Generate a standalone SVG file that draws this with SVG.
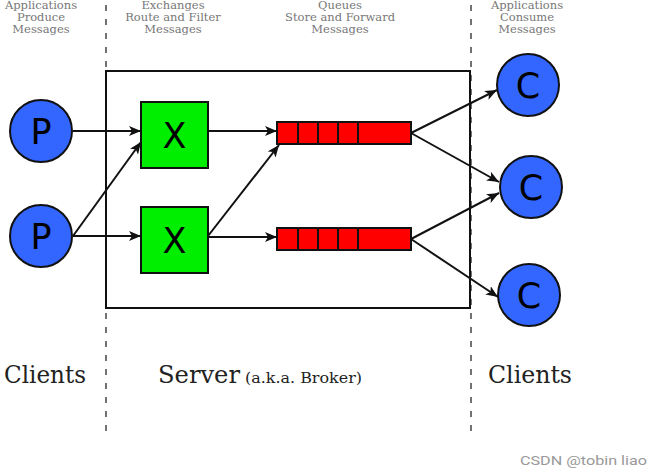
<svg xmlns="http://www.w3.org/2000/svg" width="661" height="476" viewBox="0 0 661 476">
<style>
.hdr{font-family:"DejaVu Serif","Liberation Serif",serif;font-size:11.5px;fill:#777;text-anchor:middle}
.big{font-family:"DejaVu Serif","Liberation Serif",serif;font-size:24px;fill:#222}
.sm{font-family:"DejaVu Serif","Liberation Serif",serif;font-size:14px;fill:#222}
.node{stroke:#111;stroke-width:2}
.circ{fill:#3366ff}
.ex{fill:#00ee00}
.q{fill:#ff0000}
.lbl{font-family:"DejaVu Sans","Liberation Sans",sans-serif;font-size:35px;fill:#000;text-anchor:middle}
.dash{stroke:#444;stroke-width:1.5;stroke-dasharray:6 8;fill:none}
.conn{stroke:#111;stroke-width:2;fill:none;marker-end:url(#ah)}
.wm{font-family:"Liberation Sans Narrow","Roboto","Liberation Sans",sans-serif;font-size:13px;fill:#999}
</style>
<defs>
<marker id="ah" viewBox="0 0 12 10" refX="12" refY="5" markerWidth="12" markerHeight="10" markerUnits="userSpaceOnUse" orient="auto">
<path d="M0,0 L12,5 L0,10 L3,5 Z" fill="#111"/>
</marker>
</defs>
<rect width="661" height="476" fill="#fff"/>
<g id="headers">
<text class="hdr" x="41" y="9">Applications</text>
<text class="hdr" x="41" y="21">Produce</text>
<text class="hdr" x="41" y="33">Messages</text>
<text class="hdr" x="173" y="9">Exchanges</text>
<text class="hdr" x="173" y="21">Route and Filter</text>
<text class="hdr" x="173" y="33">Messages</text>
<text class="hdr" x="340" y="9">Queues</text>
<text class="hdr" x="340" y="21">Store and Forward</text>
<text class="hdr" x="340" y="33">Messages</text>
<text class="hdr" x="527" y="9">Applications</text>
<text class="hdr" x="527" y="21">Consume</text>
<text class="hdr" x="527" y="33">Messages</text>
</g>
<g id="dividers">
<line class="dash" x1="106" y1="5" x2="106" y2="432"/>
<line class="dash" x1="471" y1="5" x2="471" y2="432"/>
</g>
<g id="server">
<rect x="106" y="71" width="364" height="237" fill="none" stroke="#111" stroke-width="2"/>
</g>
<g id="connectors">
<line class="conn" x1="73" y1="131" x2="141" y2="131"/>
<line class="conn" x1="73" y1="236" x2="141" y2="236"/>
<line class="conn" x1="73" y1="236" x2="141" y2="142"/>
<line class="conn" x1="208" y1="131" x2="277" y2="131"/>
<line class="conn" x1="208" y1="237" x2="277" y2="237"/>
<line class="conn" x1="208" y1="236" x2="279" y2="145"/>
<line class="conn" x1="411" y1="133" x2="497" y2="90"/>
<line class="conn" x1="411" y1="133" x2="499" y2="182"/>
<line class="conn" x1="411" y1="239" x2="499" y2="193"/>
<line class="conn" x1="411" y1="239" x2="498" y2="297"/>
</g>
<g id="p1"><circle class="node circ" cx="41" cy="131" r="31"/><text class="lbl" x="41" y="144">P</text></g>
<g id="p2"><circle class="node circ" cx="41" cy="236" r="31"/><text class="lbl" x="41" y="249">P</text></g>
<g id="x1"><rect class="node ex" x="141" y="102" width="67" height="66"/><text class="lbl" x="174.5" y="148">X</text></g>
<g id="x2"><rect class="node ex" x="141" y="207" width="67" height="66"/><text class="lbl" x="174.5" y="253">X</text></g>
<g id="q1">
<rect class="node q" x="277" y="122" width="134" height="22"/>
<path d="M298,122V144M318,122V144M338,122V144M358,122V144" stroke="#111" stroke-width="2"/>
</g>
<g id="q2">
<rect class="node q" x="277" y="228" width="134" height="22"/>
<path d="M298,228V250M318,228V250M338,228V250M358,228V250" stroke="#111" stroke-width="2"/>
</g>
<g id="c1"><circle class="node circ" cx="528" cy="85" r="31"/><text class="lbl" x="528" y="98">C</text></g>
<g id="c2"><circle class="node circ" cx="531" cy="187" r="31"/><text class="lbl" x="531" y="200">C</text></g>
<g id="c3"><circle class="node circ" cx="529" cy="295" r="31"/><text class="lbl" x="529" y="308">C</text></g>
<g id="footer">
<text class="big" x="4" y="383" textLength="82" lengthAdjust="spacingAndGlyphs">Clients</text>
<text class="big" x="158" y="383" textLength="82" lengthAdjust="spacingAndGlyphs">Server</text>
<text class="sm" x="245" y="383" textLength="117" lengthAdjust="spacingAndGlyphs">(a.k.a. Broker)</text>
<text class="big" x="488" y="383" textLength="84" lengthAdjust="spacingAndGlyphs">Clients</text>
</g>
<text class="wm" x="520" y="465" textLength="127" lengthAdjust="spacingAndGlyphs">CSDN @tobin liao</text>
</svg>
